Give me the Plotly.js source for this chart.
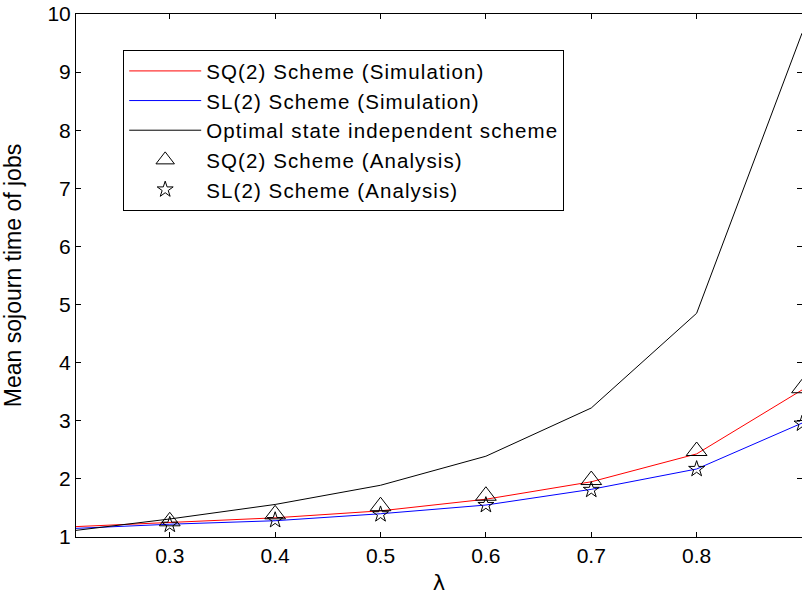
<!DOCTYPE html>
<html>
<head>
<meta charset="utf-8">
<script src="https://cdn.plot.ly/plotly-3.0.1.min.js"></script>
<style>
html,body{margin:0;padding:0;background:#fff;}
#chart{width:802px;height:597px;}
.legendtext{letter-spacing:1.1px;}
</style>
</head>
<body>
<div id="chart"></div>
<script>
// Data
var lambdaSim = [0.2, 0.3, 0.4, 0.5, 0.6, 0.7, 0.8, 0.9];
var sq2Sim = [1.17, 1.25, 1.33, 1.45, 1.65, 1.95, 2.43, 3.53];
var sl2Sim = [1.14, 1.22, 1.28, 1.40, 1.55, 1.82, 2.17, 2.96];
var optimalSI = [1.09, 1.31, 1.56, 1.89, 2.39, 3.22, 4.85, 9.67];
var lambdaAna = [0.3, 0.4, 0.5, 0.6, 0.7, 0.8, 0.9];
var sq2Ana = [1.27, 1.39, 1.53, 1.71, 1.98, 2.48, 3.56];
var sl2Ana = [1.21, 1.29, 1.39, 1.55, 1.81, 2.17, 2.95];
var xTicks = [0.3, 0.4, 0.5, 0.6, 0.7, 0.8];
var yTicks = [1, 2, 3, 4, 5, 6, 7, 8, 9, 10];

var FONT = 'Liberation Sans, Arial, sans-serif';

var traces = [
  {x: lambdaSim, y: sq2Sim, mode: 'lines', name: 'SQ(2) Scheme (Simulation)', legendgroup: 'a',
   line: {color: '#ff0000', width: 1}},
  {x: lambdaSim, y: sl2Sim, mode: 'lines', name: 'SL(2) Scheme (Simulation)', legendgroup: 'b',
   line: {color: '#0000ff', width: 1}},
  {x: lambdaSim, y: optimalSI, mode: 'lines', name: 'Optimal state independent scheme', legendgroup: 'c',
   line: {color: '#000000', width: 1}},
  {x: lambdaAna, y: sq2Ana, mode: 'markers', name: 'SQ(2) Scheme (Analysis)', legendgroup: 'd',
   marker: {symbol: 'triangle-up-open', size: 18, color: '#000000', line: {width: 1, color: '#000000'}}},
  {x: lambdaAna, y: sl2Ana, mode: 'markers', name: 'SL(2) Scheme (Analysis)', legendgroup: 'e',
   marker: {symbol: 'star-open', size: 12, color: '#000000', line: {width: 1, color: '#000000'}}}
];

var layout = {
  width: 802, height: 597,
  margin: {l: 76, r: 0, t: 14, b: 60},
  paper_bgcolor: '#ffffff', plot_bgcolor: '#ffffff',
  font: {family: FONT, size: 21, color: '#000000'},
  showlegend: true,
  legend: {
    x: 0.065, y: 0.931, xanchor: 'left', yanchor: 'top',
    bordercolor: '#000000', borderwidth: 1, bgcolor: '#ffffff',
    font: {family: FONT, size: 20.5, color: '#000000'},
    traceorder: 'grouped', tracegroupgap: 0, itemwidth: 72
  },
  xaxis: {
    range: [0.211, 0.9], tickvals: xTicks, ticktext: xTicks.map(function(v){return v.toFixed(1);}),
    ticks: 'inside', ticklen: 5, tickcolor: '#000000', tickwidth: 1,
    showline: true, linecolor: '#000000', linewidth: 1, mirror: 'ticks',
    showgrid: false, zeroline: false,
    tickfont: {family: FONT, size: 21, color: '#000000'},
    title: {text: 'λ', font: {family: 'DejaVu Sans, sans-serif', size: 21, color: '#000000'}, standoff: 9}
  },
  yaxis: {
    range: [1, 10], tickvals: yTicks, ticktext: yTicks.map(String),
    ticks: 'inside', ticklen: 5, tickcolor: '#000000', tickwidth: 1,
    showline: true, linecolor: '#000000', linewidth: 1, mirror: 'ticks',
    showgrid: false, zeroline: false,
    tickfont: {family: FONT, size: 21, color: '#000000'},
    title: {text: 'Mean sojourn time of jobs', font: {family: FONT, size: 23, color: '#000000'}, standoff: 20}
  }
};

Plotly.newPlot('chart', traces, layout, {displayModeBar: false, staticPlot: true});
</script>
</body>
</html>
